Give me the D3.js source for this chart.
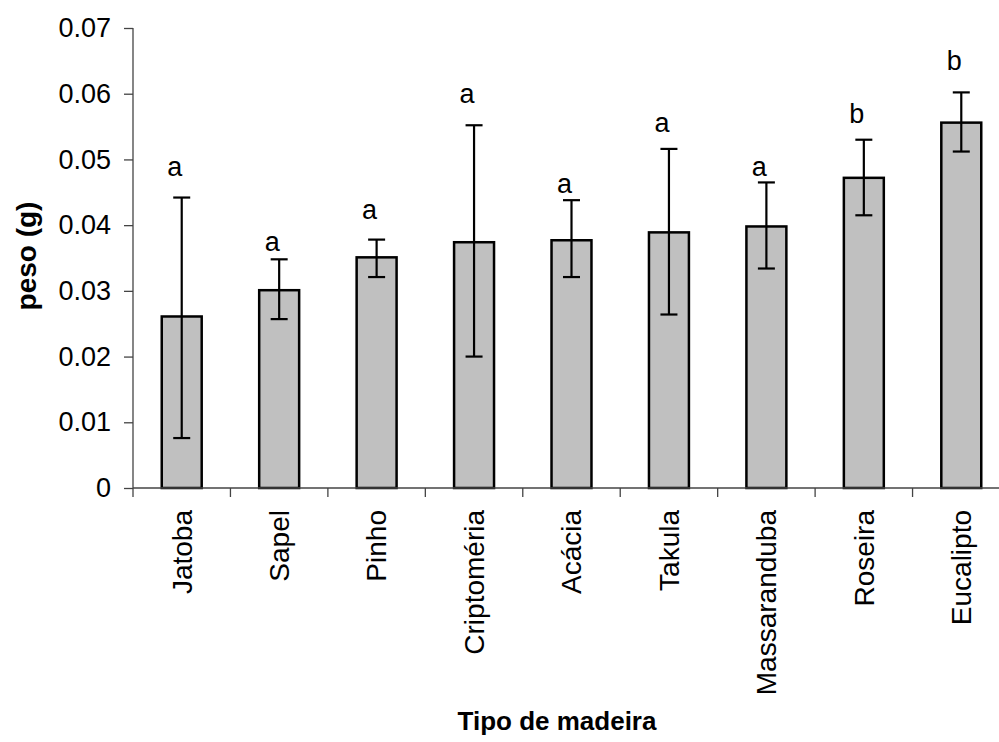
<!DOCTYPE html>
<html>
<head>
<meta charset="utf-8">
<script src="https://cdnjs.cloudflare.com/ajax/libs/d3/7.8.5/d3.min.js"></script>
<style>
    body { margin: 0; background: #fff; }
    text { font-family: "Liberation Sans", Arial, sans-serif; fill: #000; }
</style>
</head>
<body>
<div id="chart"></div>
<script>
// chart data
var madeiras = ["Jatoba", "Sapel", "Pinho", "Criptoméria", "Acácia", "Takula", "Massaranduba", "Roseira", "Eucalipto"];
var pesoMedio = [0.0261, 0.0301, 0.0351, 0.0374, 0.0377, 0.0389, 0.0398, 0.0472, 0.0556];
var erroSup = [0.0442, 0.0348, 0.0378, 0.0552, 0.0438, 0.0516, 0.0465, 0.0530, 0.0602];
var erroInf = [0.0076, 0.0257, 0.0321, 0.0200, 0.0321, 0.0264, 0.0334, 0.0415, 0.0512];
var letras = ["a", "a", "a", "a", "a", "a", "a", "b", "b"];
var letraNivel = [0.0475, 0.0361, 0.0409, 0.0586, 0.0449, 0.0542, 0.0475, 0.0556, 0.0636];
var yTicks = [0, 0.01, 0.02, 0.03, 0.04, 0.05, 0.06, 0.07];

var svgWidth = 999;
var svgHeight = 742;

var svg = d3.select("#chart")
    .append("svg")
    .attr("width", svgWidth)
    .attr("height", svgHeight);

// scales
var xScale = d3.scaleBand()
    .domain(madeiras)
    .range([133, 1010])
    .paddingInner(0.59)
    .paddingOuter(0.295);

var yScale = d3.scaleLinear()
    .domain([0, 0.07])
    .range([488, 28]);

var data = madeiras.map(function(m, i) {
    return { nome: m, peso: pesoMedio[i], sup: erroSup[i], inf: erroInf[i], letra: letras[i], nivel: letraNivel[i] };
});

// y axis
var leftAxis = d3.axisLeft(yScale)
    .tickValues(yTicks)
    .tickFormat(function(d) { return d === 0 ? "0" : d3.format(".2f")(d); })
    .tickSize(9)
    .tickPadding(13);

var yAxis = svg.append("g")
    .attr("transform", "translate(133,0)")
    .call(leftAxis);
yAxis.selectAll("path, line").attr("stroke", "#444").attr("stroke-width", 1.3);
yAxis.select(".domain").attr("d", "M0," + yScale(0.07) + "V" + yScale(0));
yAxis.selectAll("text")
    .style("font-size", "27px")
    .attr("fill", "#000");

// bars
svg.selectAll("rect.bar")
    .data(data)
    .enter()
    .append("rect")
    .attr("class", "bar")
    .attr("x", d => xScale(d.nome))
    .attr("y", d => yScale(d.peso))
    .attr("width", xScale.bandwidth())
    .attr("height", d => yScale(0) - yScale(d.peso))
    .attr("fill", "#c0c0c0")
    .attr("stroke", "#000")
    .attr("stroke-width", 2.5);

// x axis (ticks sit between categories)
var bottomAxis = d3.axisBottom(xScale).tickSize(0).tickFormat("");
var xAxis = svg.append("g")
    .attr("transform", "translate(0," + yScale(0) + ")")
    .call(bottomAxis);
xAxis.select(".domain")
    .attr("d", "M133,0H1010")
    .attr("stroke", "#444")
    .attr("stroke-width", 1.3);

var step = xScale.step();
var bordas = madeiras.map(m => xScale(m) - xScale.paddingInner() * step / 2);
xAxis.selectAll("line.borda")
    .data(bordas)
    .enter()
    .append("line")
    .attr("class", "borda")
    .attr("x1", d => d)
    .attr("x2", d => d)
    .attr("y1", 0)
    .attr("y2", 9)
    .attr("stroke", "#444")
    .attr("stroke-width", 1.3);

// category labels, rotated
svg.selectAll("text.cat")
    .data(data)
    .enter()
    .append("text")
    .attr("class", "cat")
    .attr("transform", "rotate(-90)")
    .attr("x", -510)
    .attr("y", d => xScale(d.nome) + xScale.bandwidth() / 2)
    .attr("dy", "0.35em")
    .attr("text-anchor", "end")
    .style("font-size", "28px")
    .text(d => d.nome);

// error bars
var cx = d => xScale(d.nome) + xScale.bandwidth() / 2;
var erros = svg.append("g").attr("stroke", "#000").attr("stroke-width", 2.2);
erros.selectAll("line.vert")
    .data(data)
    .enter()
    .append("line")
    .attr("x1", cx).attr("x2", cx)
    .attr("y1", d => yScale(d.sup))
    .attr("y2", d => yScale(d.inf));
erros.selectAll("line.capSup")
    .data(data)
    .enter()
    .append("line")
    .attr("x1", d => cx(d) - 8.5).attr("x2", d => cx(d) + 8.5)
    .attr("y1", d => yScale(d.sup)).attr("y2", d => yScale(d.sup));
erros.selectAll("line.capInf")
    .data(data)
    .enter()
    .append("line")
    .attr("x1", d => cx(d) - 8.5).attr("x2", d => cx(d) + 8.5)
    .attr("y1", d => yScale(d.inf)).attr("y2", d => yScale(d.inf));

// significance letters
svg.selectAll("text.letra")
    .data(data)
    .enter()
    .append("text")
    .attr("class", "letra")
    .attr("x", d => cx(d) - 7)
    .attr("y", d => yScale(d.nivel))
    .attr("text-anchor", "middle")
    .style("font-size", "27px")
    .text(d => d.letra);

// axis titles
svg.append("text")
    .attr("transform", "rotate(-90)")
    .attr("x", -256)
    .attr("y", 36)
    .attr("text-anchor", "middle")
    .style("font-size", "28px")
    .style("font-weight", "bold")
    .text("peso (g)");

svg.append("text")
    .attr("x", 557)
    .attr("y", 730)
    .attr("text-anchor", "middle")
    .style("font-size", "26px")
    .style("font-weight", "bold")
    .text("Tipo de madeira");
</script>
</body>
</html>
